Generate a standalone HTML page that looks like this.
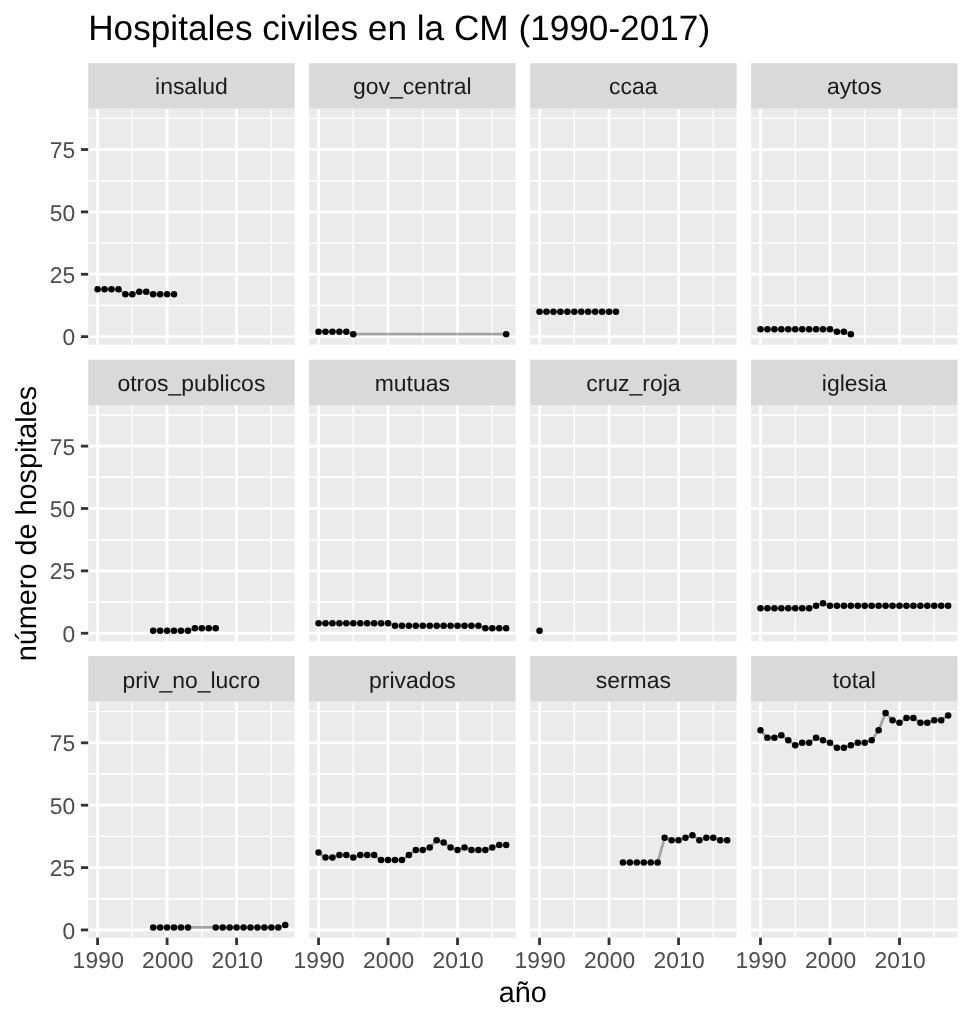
<!DOCTYPE html>
<html lang="es"><head><meta charset="utf-8"><title>Hospitales civiles en la CM (1990-2017)</title>
<style>html,body{margin:0;padding:0;background:#fff}body{width:972px;height:1024px;overflow:hidden}svg{display:block}text{font-family:"Liberation Sans",Arial,Helvetica,sans-serif;text-rendering:geometricPrecision}.ax{font-size:22.8px;letter-spacing:.2px;fill:#4d4d4d}.st{font-size:22.95px;fill:#1a1a1a;text-anchor:middle}.tt{font-size:28.8px;fill:#000}.ti{font-size:35.2px;fill:#000}.mn{stroke:#fff;stroke-width:1.4}.mj{stroke:#fff;stroke-width:2.8}.tk{stroke:#333;stroke-width:2.8}.ln{fill:none;stroke:#000;stroke-opacity:.31;stroke-width:2.7;stroke-linejoin:round;stroke-linecap:butt}.pt{fill:#000}</style></head><body>
<svg width="972" height="1024" viewBox="0 0 972 1024">
<rect width="972" height="1024" fill="#fff"/>
<text class="ti" x="88.2" y="40">Hospitales civiles en la CM (1990-2017)</text>
<g>
<rect x="88.2" y="108.65" width="206.4" height="236.15" fill="#ebebeb"/>
<line class="mn" x1="88.2" x2="294.6" y1="305.46" y2="305.46"/>
<line class="mn" x1="88.2" x2="294.6" y1="243.09" y2="243.09"/>
<line class="mn" x1="88.2" x2="294.6" y1="180.71" y2="180.71"/>
<line class="mn" x1="88.2" x2="294.6" y1="118.34" y2="118.34"/>
<line class="mn" x1="132.33" x2="132.33" y1="108.65" y2="344.8"/>
<line class="mn" x1="201.83" x2="201.83" y1="108.65" y2="344.8"/>
<line class="mn" x1="271.33" x2="271.33" y1="108.65" y2="344.8"/>
<line class="mj" x1="88.2" x2="294.6" y1="336.65" y2="336.65"/>
<line class="mj" x1="88.2" x2="294.6" y1="274.27" y2="274.27"/>
<line class="mj" x1="88.2" x2="294.6" y1="211.9" y2="211.9"/>
<line class="mj" x1="88.2" x2="294.6" y1="149.52" y2="149.52"/>
<line class="mj" x1="97.58" x2="97.58" y1="108.65" y2="344.8"/>
<line class="mj" x1="167.08" x2="167.08" y1="108.65" y2="344.8"/>
<line class="mj" x1="236.58" x2="236.58" y1="108.65" y2="344.8"/>
<polyline class="ln" points="97.58,289.25 104.53,289.25 111.48,289.25 118.43,289.25 125.38,294.23 132.33,294.23 139.28,291.74 146.23,291.74 153.18,294.23 160.13,294.23 167.08,294.23 174.03,294.23"/>
<circle class="pt" cx="97.58" cy="289.25" r="3.25"/>
<circle class="pt" cx="104.53" cy="289.25" r="3.25"/>
<circle class="pt" cx="111.48" cy="289.25" r="3.25"/>
<circle class="pt" cx="118.43" cy="289.25" r="3.25"/>
<circle class="pt" cx="125.38" cy="294.23" r="3.25"/>
<circle class="pt" cx="132.33" cy="294.23" r="3.25"/>
<circle class="pt" cx="139.28" cy="291.74" r="3.25"/>
<circle class="pt" cx="146.23" cy="291.74" r="3.25"/>
<circle class="pt" cx="153.18" cy="294.23" r="3.25"/>
<circle class="pt" cx="160.13" cy="294.23" r="3.25"/>
<circle class="pt" cx="167.08" cy="294.23" r="3.25"/>
<circle class="pt" cx="174.03" cy="294.23" r="3.25"/>
<rect x="88.2" y="63.2" width="206.4" height="45.45" fill="#d9d9d9"/>
<text class="st" x="191.4" y="93.9">insalud</text>
<line class="tk" x1="80.9" x2="88.2" y1="336.65" y2="336.65"/>
<text class="ax" text-anchor="end" x="75.5" y="345.25">0</text>
<line class="tk" x1="80.9" x2="88.2" y1="274.27" y2="274.27"/>
<text class="ax" text-anchor="end" x="75.5" y="282.88">25</text>
<line class="tk" x1="80.9" x2="88.2" y1="211.9" y2="211.9"/>
<text class="ax" text-anchor="end" x="75.5" y="220.5">50</text>
<line class="tk" x1="80.9" x2="88.2" y1="149.52" y2="149.52"/>
<text class="ax" text-anchor="end" x="75.5" y="158.12">75</text>
</g>
<g>
<rect x="309.15" y="108.65" width="206.4" height="236.15" fill="#ebebeb"/>
<line class="mn" x1="309.15" x2="515.55" y1="305.46" y2="305.46"/>
<line class="mn" x1="309.15" x2="515.55" y1="243.09" y2="243.09"/>
<line class="mn" x1="309.15" x2="515.55" y1="180.71" y2="180.71"/>
<line class="mn" x1="309.15" x2="515.55" y1="118.34" y2="118.34"/>
<line class="mn" x1="353.28" x2="353.28" y1="108.65" y2="344.8"/>
<line class="mn" x1="422.78" x2="422.78" y1="108.65" y2="344.8"/>
<line class="mn" x1="492.28" x2="492.28" y1="108.65" y2="344.8"/>
<line class="mj" x1="309.15" x2="515.55" y1="336.65" y2="336.65"/>
<line class="mj" x1="309.15" x2="515.55" y1="274.27" y2="274.27"/>
<line class="mj" x1="309.15" x2="515.55" y1="211.9" y2="211.9"/>
<line class="mj" x1="309.15" x2="515.55" y1="149.52" y2="149.52"/>
<line class="mj" x1="318.53" x2="318.53" y1="108.65" y2="344.8"/>
<line class="mj" x1="388.03" x2="388.03" y1="108.65" y2="344.8"/>
<line class="mj" x1="457.53" x2="457.53" y1="108.65" y2="344.8"/>
<polyline class="ln" points="318.53,331.66 325.48,331.66 332.43,331.66 339.38,331.66 346.33,331.66 353.28,334.15 506.18,334.15"/>
<circle class="pt" cx="318.53" cy="331.66" r="3.25"/>
<circle class="pt" cx="325.48" cy="331.66" r="3.25"/>
<circle class="pt" cx="332.43" cy="331.66" r="3.25"/>
<circle class="pt" cx="339.38" cy="331.66" r="3.25"/>
<circle class="pt" cx="346.33" cy="331.66" r="3.25"/>
<circle class="pt" cx="353.28" cy="334.15" r="3.25"/>
<circle class="pt" cx="506.18" cy="334.15" r="3.25"/>
<rect x="309.15" y="63.2" width="206.4" height="45.45" fill="#d9d9d9"/>
<text class="st" x="412.35" y="93.9">gov_central</text>
</g>
<g>
<rect x="530.15" y="108.65" width="206.4" height="236.15" fill="#ebebeb"/>
<line class="mn" x1="530.15" x2="736.55" y1="305.46" y2="305.46"/>
<line class="mn" x1="530.15" x2="736.55" y1="243.09" y2="243.09"/>
<line class="mn" x1="530.15" x2="736.55" y1="180.71" y2="180.71"/>
<line class="mn" x1="530.15" x2="736.55" y1="118.34" y2="118.34"/>
<line class="mn" x1="574.28" x2="574.28" y1="108.65" y2="344.8"/>
<line class="mn" x1="643.78" x2="643.78" y1="108.65" y2="344.8"/>
<line class="mn" x1="713.28" x2="713.28" y1="108.65" y2="344.8"/>
<line class="mj" x1="530.15" x2="736.55" y1="336.65" y2="336.65"/>
<line class="mj" x1="530.15" x2="736.55" y1="274.27" y2="274.27"/>
<line class="mj" x1="530.15" x2="736.55" y1="211.9" y2="211.9"/>
<line class="mj" x1="530.15" x2="736.55" y1="149.52" y2="149.52"/>
<line class="mj" x1="539.53" x2="539.53" y1="108.65" y2="344.8"/>
<line class="mj" x1="609.03" x2="609.03" y1="108.65" y2="344.8"/>
<line class="mj" x1="678.53" x2="678.53" y1="108.65" y2="344.8"/>
<polyline class="ln" points="539.53,311.7 546.48,311.7 553.43,311.7 560.38,311.7 567.33,311.7 574.28,311.7 581.23,311.7 588.18,311.7 595.13,311.7 602.08,311.7 609.03,311.7 615.98,311.7"/>
<circle class="pt" cx="539.53" cy="311.7" r="3.25"/>
<circle class="pt" cx="546.48" cy="311.7" r="3.25"/>
<circle class="pt" cx="553.43" cy="311.7" r="3.25"/>
<circle class="pt" cx="560.38" cy="311.7" r="3.25"/>
<circle class="pt" cx="567.33" cy="311.7" r="3.25"/>
<circle class="pt" cx="574.28" cy="311.7" r="3.25"/>
<circle class="pt" cx="581.23" cy="311.7" r="3.25"/>
<circle class="pt" cx="588.18" cy="311.7" r="3.25"/>
<circle class="pt" cx="595.13" cy="311.7" r="3.25"/>
<circle class="pt" cx="602.08" cy="311.7" r="3.25"/>
<circle class="pt" cx="609.03" cy="311.7" r="3.25"/>
<circle class="pt" cx="615.98" cy="311.7" r="3.25"/>
<rect x="530.15" y="63.2" width="206.4" height="45.45" fill="#d9d9d9"/>
<text class="st" x="633.35" y="93.9">ccaa</text>
</g>
<g>
<rect x="751.1" y="108.65" width="206.4" height="236.15" fill="#ebebeb"/>
<line class="mn" x1="751.1" x2="957.5" y1="305.46" y2="305.46"/>
<line class="mn" x1="751.1" x2="957.5" y1="243.09" y2="243.09"/>
<line class="mn" x1="751.1" x2="957.5" y1="180.71" y2="180.71"/>
<line class="mn" x1="751.1" x2="957.5" y1="118.34" y2="118.34"/>
<line class="mn" x1="795.23" x2="795.23" y1="108.65" y2="344.8"/>
<line class="mn" x1="864.73" x2="864.73" y1="108.65" y2="344.8"/>
<line class="mn" x1="934.23" x2="934.23" y1="108.65" y2="344.8"/>
<line class="mj" x1="751.1" x2="957.5" y1="336.65" y2="336.65"/>
<line class="mj" x1="751.1" x2="957.5" y1="274.27" y2="274.27"/>
<line class="mj" x1="751.1" x2="957.5" y1="211.9" y2="211.9"/>
<line class="mj" x1="751.1" x2="957.5" y1="149.52" y2="149.52"/>
<line class="mj" x1="760.48" x2="760.48" y1="108.65" y2="344.8"/>
<line class="mj" x1="829.98" x2="829.98" y1="108.65" y2="344.8"/>
<line class="mj" x1="899.48" x2="899.48" y1="108.65" y2="344.8"/>
<polyline class="ln" points="760.48,329.16 767.43,329.16 774.38,329.16 781.33,329.16 788.28,329.16 795.23,329.16 802.18,329.16 809.13,329.16 816.08,329.16 823.03,329.16 829.98,329.16 836.93,331.66 843.88,331.66 850.83,334.15"/>
<circle class="pt" cx="760.48" cy="329.16" r="3.25"/>
<circle class="pt" cx="767.43" cy="329.16" r="3.25"/>
<circle class="pt" cx="774.38" cy="329.16" r="3.25"/>
<circle class="pt" cx="781.33" cy="329.16" r="3.25"/>
<circle class="pt" cx="788.28" cy="329.16" r="3.25"/>
<circle class="pt" cx="795.23" cy="329.16" r="3.25"/>
<circle class="pt" cx="802.18" cy="329.16" r="3.25"/>
<circle class="pt" cx="809.13" cy="329.16" r="3.25"/>
<circle class="pt" cx="816.08" cy="329.16" r="3.25"/>
<circle class="pt" cx="823.03" cy="329.16" r="3.25"/>
<circle class="pt" cx="829.98" cy="329.16" r="3.25"/>
<circle class="pt" cx="836.93" cy="331.66" r="3.25"/>
<circle class="pt" cx="843.88" cy="331.66" r="3.25"/>
<circle class="pt" cx="850.83" cy="334.15" r="3.25"/>
<rect x="751.1" y="63.2" width="206.4" height="45.45" fill="#d9d9d9"/>
<text class="st" x="854.3" y="93.9">aytos</text>
</g>
<g>
<rect x="88.2" y="405.15" width="206.4" height="236.15" fill="#ebebeb"/>
<line class="mn" x1="88.2" x2="294.6" y1="602.06" y2="602.06"/>
<line class="mn" x1="88.2" x2="294.6" y1="539.69" y2="539.69"/>
<line class="mn" x1="88.2" x2="294.6" y1="477.31" y2="477.31"/>
<line class="mn" x1="88.2" x2="294.6" y1="414.94" y2="414.94"/>
<line class="mn" x1="132.33" x2="132.33" y1="405.15" y2="641.3"/>
<line class="mn" x1="201.83" x2="201.83" y1="405.15" y2="641.3"/>
<line class="mn" x1="271.33" x2="271.33" y1="405.15" y2="641.3"/>
<line class="mj" x1="88.2" x2="294.6" y1="633.25" y2="633.25"/>
<line class="mj" x1="88.2" x2="294.6" y1="570.88" y2="570.88"/>
<line class="mj" x1="88.2" x2="294.6" y1="508.5" y2="508.5"/>
<line class="mj" x1="88.2" x2="294.6" y1="446.12" y2="446.12"/>
<line class="mj" x1="97.58" x2="97.58" y1="405.15" y2="641.3"/>
<line class="mj" x1="167.08" x2="167.08" y1="405.15" y2="641.3"/>
<line class="mj" x1="236.58" x2="236.58" y1="405.15" y2="641.3"/>
<polyline class="ln" points="153.18,630.75 160.13,630.75 167.08,630.75 174.03,630.75 180.98,630.75 187.93,630.75 194.88,628.26 201.83,628.26 208.78,628.26 215.73,628.26"/>
<circle class="pt" cx="153.18" cy="630.75" r="3.25"/>
<circle class="pt" cx="160.13" cy="630.75" r="3.25"/>
<circle class="pt" cx="167.08" cy="630.75" r="3.25"/>
<circle class="pt" cx="174.03" cy="630.75" r="3.25"/>
<circle class="pt" cx="180.98" cy="630.75" r="3.25"/>
<circle class="pt" cx="187.93" cy="630.75" r="3.25"/>
<circle class="pt" cx="194.88" cy="628.26" r="3.25"/>
<circle class="pt" cx="201.83" cy="628.26" r="3.25"/>
<circle class="pt" cx="208.78" cy="628.26" r="3.25"/>
<circle class="pt" cx="215.73" cy="628.26" r="3.25"/>
<rect x="88.2" y="359.7" width="206.4" height="45.45" fill="#d9d9d9"/>
<text class="st" x="191.4" y="390.9">otros_publicos</text>
<line class="tk" x1="80.9" x2="88.2" y1="633.25" y2="633.25"/>
<text class="ax" text-anchor="end" x="75.5" y="641.85">0</text>
<line class="tk" x1="80.9" x2="88.2" y1="570.88" y2="570.88"/>
<text class="ax" text-anchor="end" x="75.5" y="579.48">25</text>
<line class="tk" x1="80.9" x2="88.2" y1="508.5" y2="508.5"/>
<text class="ax" text-anchor="end" x="75.5" y="517.1">50</text>
<line class="tk" x1="80.9" x2="88.2" y1="446.12" y2="446.12"/>
<text class="ax" text-anchor="end" x="75.5" y="454.73">75</text>
</g>
<g>
<rect x="309.15" y="405.15" width="206.4" height="236.15" fill="#ebebeb"/>
<line class="mn" x1="309.15" x2="515.55" y1="602.06" y2="602.06"/>
<line class="mn" x1="309.15" x2="515.55" y1="539.69" y2="539.69"/>
<line class="mn" x1="309.15" x2="515.55" y1="477.31" y2="477.31"/>
<line class="mn" x1="309.15" x2="515.55" y1="414.94" y2="414.94"/>
<line class="mn" x1="353.28" x2="353.28" y1="405.15" y2="641.3"/>
<line class="mn" x1="422.78" x2="422.78" y1="405.15" y2="641.3"/>
<line class="mn" x1="492.28" x2="492.28" y1="405.15" y2="641.3"/>
<line class="mj" x1="309.15" x2="515.55" y1="633.25" y2="633.25"/>
<line class="mj" x1="309.15" x2="515.55" y1="570.88" y2="570.88"/>
<line class="mj" x1="309.15" x2="515.55" y1="508.5" y2="508.5"/>
<line class="mj" x1="309.15" x2="515.55" y1="446.12" y2="446.12"/>
<line class="mj" x1="318.53" x2="318.53" y1="405.15" y2="641.3"/>
<line class="mj" x1="388.03" x2="388.03" y1="405.15" y2="641.3"/>
<line class="mj" x1="457.53" x2="457.53" y1="405.15" y2="641.3"/>
<polyline class="ln" points="318.53,623.27 325.48,623.27 332.43,623.27 339.38,623.27 346.33,623.27 353.28,623.27 360.23,623.27 367.18,623.27 374.13,623.27 381.08,623.27 388.03,623.27 394.98,625.76 401.93,625.76 408.88,625.76 415.83,625.76 422.78,625.76 429.73,625.76 436.68,625.76 443.63,625.76 450.58,625.76 457.53,625.76 464.48,625.76 471.43,625.76 478.38,625.76 485.33,628.26 492.28,628.26 499.23,628.26 506.18,628.26"/>
<circle class="pt" cx="318.53" cy="623.27" r="3.25"/>
<circle class="pt" cx="325.48" cy="623.27" r="3.25"/>
<circle class="pt" cx="332.43" cy="623.27" r="3.25"/>
<circle class="pt" cx="339.38" cy="623.27" r="3.25"/>
<circle class="pt" cx="346.33" cy="623.27" r="3.25"/>
<circle class="pt" cx="353.28" cy="623.27" r="3.25"/>
<circle class="pt" cx="360.23" cy="623.27" r="3.25"/>
<circle class="pt" cx="367.18" cy="623.27" r="3.25"/>
<circle class="pt" cx="374.13" cy="623.27" r="3.25"/>
<circle class="pt" cx="381.08" cy="623.27" r="3.25"/>
<circle class="pt" cx="388.03" cy="623.27" r="3.25"/>
<circle class="pt" cx="394.98" cy="625.76" r="3.25"/>
<circle class="pt" cx="401.93" cy="625.76" r="3.25"/>
<circle class="pt" cx="408.88" cy="625.76" r="3.25"/>
<circle class="pt" cx="415.83" cy="625.76" r="3.25"/>
<circle class="pt" cx="422.78" cy="625.76" r="3.25"/>
<circle class="pt" cx="429.73" cy="625.76" r="3.25"/>
<circle class="pt" cx="436.68" cy="625.76" r="3.25"/>
<circle class="pt" cx="443.63" cy="625.76" r="3.25"/>
<circle class="pt" cx="450.58" cy="625.76" r="3.25"/>
<circle class="pt" cx="457.53" cy="625.76" r="3.25"/>
<circle class="pt" cx="464.48" cy="625.76" r="3.25"/>
<circle class="pt" cx="471.43" cy="625.76" r="3.25"/>
<circle class="pt" cx="478.38" cy="625.76" r="3.25"/>
<circle class="pt" cx="485.33" cy="628.26" r="3.25"/>
<circle class="pt" cx="492.28" cy="628.26" r="3.25"/>
<circle class="pt" cx="499.23" cy="628.26" r="3.25"/>
<circle class="pt" cx="506.18" cy="628.26" r="3.25"/>
<rect x="309.15" y="359.7" width="206.4" height="45.45" fill="#d9d9d9"/>
<text class="st" x="412.35" y="390.9">mutuas</text>
</g>
<g>
<rect x="530.15" y="405.15" width="206.4" height="236.15" fill="#ebebeb"/>
<line class="mn" x1="530.15" x2="736.55" y1="602.06" y2="602.06"/>
<line class="mn" x1="530.15" x2="736.55" y1="539.69" y2="539.69"/>
<line class="mn" x1="530.15" x2="736.55" y1="477.31" y2="477.31"/>
<line class="mn" x1="530.15" x2="736.55" y1="414.94" y2="414.94"/>
<line class="mn" x1="574.28" x2="574.28" y1="405.15" y2="641.3"/>
<line class="mn" x1="643.78" x2="643.78" y1="405.15" y2="641.3"/>
<line class="mn" x1="713.28" x2="713.28" y1="405.15" y2="641.3"/>
<line class="mj" x1="530.15" x2="736.55" y1="633.25" y2="633.25"/>
<line class="mj" x1="530.15" x2="736.55" y1="570.88" y2="570.88"/>
<line class="mj" x1="530.15" x2="736.55" y1="508.5" y2="508.5"/>
<line class="mj" x1="530.15" x2="736.55" y1="446.12" y2="446.12"/>
<line class="mj" x1="539.53" x2="539.53" y1="405.15" y2="641.3"/>
<line class="mj" x1="609.03" x2="609.03" y1="405.15" y2="641.3"/>
<line class="mj" x1="678.53" x2="678.53" y1="405.15" y2="641.3"/>
<circle class="pt" cx="539.53" cy="630.75" r="3.25"/>
<rect x="530.15" y="359.7" width="206.4" height="45.45" fill="#d9d9d9"/>
<text class="st" x="633.35" y="390.9">cruz_roja</text>
</g>
<g>
<rect x="751.1" y="405.15" width="206.4" height="236.15" fill="#ebebeb"/>
<line class="mn" x1="751.1" x2="957.5" y1="602.06" y2="602.06"/>
<line class="mn" x1="751.1" x2="957.5" y1="539.69" y2="539.69"/>
<line class="mn" x1="751.1" x2="957.5" y1="477.31" y2="477.31"/>
<line class="mn" x1="751.1" x2="957.5" y1="414.94" y2="414.94"/>
<line class="mn" x1="795.23" x2="795.23" y1="405.15" y2="641.3"/>
<line class="mn" x1="864.73" x2="864.73" y1="405.15" y2="641.3"/>
<line class="mn" x1="934.23" x2="934.23" y1="405.15" y2="641.3"/>
<line class="mj" x1="751.1" x2="957.5" y1="633.25" y2="633.25"/>
<line class="mj" x1="751.1" x2="957.5" y1="570.88" y2="570.88"/>
<line class="mj" x1="751.1" x2="957.5" y1="508.5" y2="508.5"/>
<line class="mj" x1="751.1" x2="957.5" y1="446.12" y2="446.12"/>
<line class="mj" x1="760.48" x2="760.48" y1="405.15" y2="641.3"/>
<line class="mj" x1="829.98" x2="829.98" y1="405.15" y2="641.3"/>
<line class="mj" x1="899.48" x2="899.48" y1="405.15" y2="641.3"/>
<polyline class="ln" points="760.48,608.3 767.43,608.3 774.38,608.3 781.33,608.3 788.28,608.3 795.23,608.3 802.18,608.3 809.13,608.3 816.08,605.8 823.03,603.31 829.98,605.8 836.93,605.8 843.88,605.8 850.83,605.8 857.78,605.8 864.73,605.8 871.68,605.8 878.63,605.8 885.58,605.8 892.53,605.8 899.48,605.8 906.43,605.8 913.38,605.8 920.33,605.8 927.28,605.8 934.23,605.8 941.18,605.8 948.13,605.8"/>
<circle class="pt" cx="760.48" cy="608.3" r="3.25"/>
<circle class="pt" cx="767.43" cy="608.3" r="3.25"/>
<circle class="pt" cx="774.38" cy="608.3" r="3.25"/>
<circle class="pt" cx="781.33" cy="608.3" r="3.25"/>
<circle class="pt" cx="788.28" cy="608.3" r="3.25"/>
<circle class="pt" cx="795.23" cy="608.3" r="3.25"/>
<circle class="pt" cx="802.18" cy="608.3" r="3.25"/>
<circle class="pt" cx="809.13" cy="608.3" r="3.25"/>
<circle class="pt" cx="816.08" cy="605.8" r="3.25"/>
<circle class="pt" cx="823.03" cy="603.31" r="3.25"/>
<circle class="pt" cx="829.98" cy="605.8" r="3.25"/>
<circle class="pt" cx="836.93" cy="605.8" r="3.25"/>
<circle class="pt" cx="843.88" cy="605.8" r="3.25"/>
<circle class="pt" cx="850.83" cy="605.8" r="3.25"/>
<circle class="pt" cx="857.78" cy="605.8" r="3.25"/>
<circle class="pt" cx="864.73" cy="605.8" r="3.25"/>
<circle class="pt" cx="871.68" cy="605.8" r="3.25"/>
<circle class="pt" cx="878.63" cy="605.8" r="3.25"/>
<circle class="pt" cx="885.58" cy="605.8" r="3.25"/>
<circle class="pt" cx="892.53" cy="605.8" r="3.25"/>
<circle class="pt" cx="899.48" cy="605.8" r="3.25"/>
<circle class="pt" cx="906.43" cy="605.8" r="3.25"/>
<circle class="pt" cx="913.38" cy="605.8" r="3.25"/>
<circle class="pt" cx="920.33" cy="605.8" r="3.25"/>
<circle class="pt" cx="927.28" cy="605.8" r="3.25"/>
<circle class="pt" cx="934.23" cy="605.8" r="3.25"/>
<circle class="pt" cx="941.18" cy="605.8" r="3.25"/>
<circle class="pt" cx="948.13" cy="605.8" r="3.25"/>
<rect x="751.1" y="359.7" width="206.4" height="45.45" fill="#d9d9d9"/>
<text class="st" x="854.3" y="390.9">iglesia</text>
</g>
<g>
<rect x="88.2" y="701.55" width="206.4" height="236.15" fill="#ebebeb"/>
<line class="mn" x1="88.2" x2="294.6" y1="898.76" y2="898.76"/>
<line class="mn" x1="88.2" x2="294.6" y1="836.39" y2="836.39"/>
<line class="mn" x1="88.2" x2="294.6" y1="774.01" y2="774.01"/>
<line class="mn" x1="88.2" x2="294.6" y1="711.64" y2="711.64"/>
<line class="mn" x1="132.33" x2="132.33" y1="701.55" y2="937.7"/>
<line class="mn" x1="201.83" x2="201.83" y1="701.55" y2="937.7"/>
<line class="mn" x1="271.33" x2="271.33" y1="701.55" y2="937.7"/>
<line class="mj" x1="88.2" x2="294.6" y1="929.95" y2="929.95"/>
<line class="mj" x1="88.2" x2="294.6" y1="867.58" y2="867.58"/>
<line class="mj" x1="88.2" x2="294.6" y1="805.2" y2="805.2"/>
<line class="mj" x1="88.2" x2="294.6" y1="742.83" y2="742.83"/>
<line class="mj" x1="97.58" x2="97.58" y1="701.55" y2="937.7"/>
<line class="mj" x1="167.08" x2="167.08" y1="701.55" y2="937.7"/>
<line class="mj" x1="236.58" x2="236.58" y1="701.55" y2="937.7"/>
<polyline class="ln" points="153.18,927.46 160.13,927.46 167.08,927.46 174.03,927.46 180.98,927.46 187.93,927.46 215.73,927.46 222.68,927.46 229.63,927.46 236.58,927.46 243.53,927.46 250.48,927.46 257.43,927.46 264.38,927.46 271.33,927.46 278.28,927.46 285.23,924.96"/>
<circle class="pt" cx="153.18" cy="927.46" r="3.25"/>
<circle class="pt" cx="160.13" cy="927.46" r="3.25"/>
<circle class="pt" cx="167.08" cy="927.46" r="3.25"/>
<circle class="pt" cx="174.03" cy="927.46" r="3.25"/>
<circle class="pt" cx="180.98" cy="927.46" r="3.25"/>
<circle class="pt" cx="187.93" cy="927.46" r="3.25"/>
<circle class="pt" cx="215.73" cy="927.46" r="3.25"/>
<circle class="pt" cx="222.68" cy="927.46" r="3.25"/>
<circle class="pt" cx="229.63" cy="927.46" r="3.25"/>
<circle class="pt" cx="236.58" cy="927.46" r="3.25"/>
<circle class="pt" cx="243.53" cy="927.46" r="3.25"/>
<circle class="pt" cx="250.48" cy="927.46" r="3.25"/>
<circle class="pt" cx="257.43" cy="927.46" r="3.25"/>
<circle class="pt" cx="264.38" cy="927.46" r="3.25"/>
<circle class="pt" cx="271.33" cy="927.46" r="3.25"/>
<circle class="pt" cx="278.28" cy="927.46" r="3.25"/>
<circle class="pt" cx="285.23" cy="924.96" r="3.25"/>
<rect x="88.2" y="656.1" width="206.4" height="45.45" fill="#d9d9d9"/>
<text class="st" x="191.4" y="687.7">priv_no_lucro</text>
<line class="tk" x1="80.9" x2="88.2" y1="929.95" y2="929.95"/>
<text class="ax" text-anchor="end" x="75.5" y="938.55">0</text>
<line class="tk" x1="80.9" x2="88.2" y1="867.58" y2="867.58"/>
<text class="ax" text-anchor="end" x="75.5" y="876.18">25</text>
<line class="tk" x1="80.9" x2="88.2" y1="805.2" y2="805.2"/>
<text class="ax" text-anchor="end" x="75.5" y="813.8">50</text>
<line class="tk" x1="80.9" x2="88.2" y1="742.83" y2="742.83"/>
<text class="ax" text-anchor="end" x="75.5" y="751.43">75</text>
<line class="tk" x1="97.58" x2="97.58" y1="937.7" y2="945"/>
<text class="ax" text-anchor="middle" x="98.28" y="968.3">1990</text>
<line class="tk" x1="167.08" x2="167.08" y1="937.7" y2="945"/>
<text class="ax" text-anchor="middle" x="167.78" y="968.3">2000</text>
<line class="tk" x1="236.58" x2="236.58" y1="937.7" y2="945"/>
<text class="ax" text-anchor="middle" x="237.28" y="968.3">2010</text>
</g>
<g>
<rect x="309.15" y="701.55" width="206.4" height="236.15" fill="#ebebeb"/>
<line class="mn" x1="309.15" x2="515.55" y1="898.76" y2="898.76"/>
<line class="mn" x1="309.15" x2="515.55" y1="836.39" y2="836.39"/>
<line class="mn" x1="309.15" x2="515.55" y1="774.01" y2="774.01"/>
<line class="mn" x1="309.15" x2="515.55" y1="711.64" y2="711.64"/>
<line class="mn" x1="353.28" x2="353.28" y1="701.55" y2="937.7"/>
<line class="mn" x1="422.78" x2="422.78" y1="701.55" y2="937.7"/>
<line class="mn" x1="492.28" x2="492.28" y1="701.55" y2="937.7"/>
<line class="mj" x1="309.15" x2="515.55" y1="929.95" y2="929.95"/>
<line class="mj" x1="309.15" x2="515.55" y1="867.58" y2="867.58"/>
<line class="mj" x1="309.15" x2="515.55" y1="805.2" y2="805.2"/>
<line class="mj" x1="309.15" x2="515.55" y1="742.83" y2="742.83"/>
<line class="mj" x1="318.53" x2="318.53" y1="701.55" y2="937.7"/>
<line class="mj" x1="388.03" x2="388.03" y1="701.55" y2="937.7"/>
<line class="mj" x1="457.53" x2="457.53" y1="701.55" y2="937.7"/>
<polyline class="ln" points="318.53,852.61 325.48,857.6 332.43,857.6 339.38,855.1 346.33,855.1 353.28,857.6 360.23,855.1 367.18,855.1 374.13,855.1 381.08,860.09 388.03,860.09 394.98,860.09 401.93,860.09 408.88,855.1 415.83,850.11 422.78,850.11 429.73,847.62 436.68,840.13 443.63,842.62 450.58,847.62 457.53,850.11 464.48,847.62 471.43,850.11 478.38,850.11 485.33,850.11 492.28,847.62 499.23,845.12 506.18,845.12"/>
<circle class="pt" cx="318.53" cy="852.61" r="3.25"/>
<circle class="pt" cx="325.48" cy="857.6" r="3.25"/>
<circle class="pt" cx="332.43" cy="857.6" r="3.25"/>
<circle class="pt" cx="339.38" cy="855.1" r="3.25"/>
<circle class="pt" cx="346.33" cy="855.1" r="3.25"/>
<circle class="pt" cx="353.28" cy="857.6" r="3.25"/>
<circle class="pt" cx="360.23" cy="855.1" r="3.25"/>
<circle class="pt" cx="367.18" cy="855.1" r="3.25"/>
<circle class="pt" cx="374.13" cy="855.1" r="3.25"/>
<circle class="pt" cx="381.08" cy="860.09" r="3.25"/>
<circle class="pt" cx="388.03" cy="860.09" r="3.25"/>
<circle class="pt" cx="394.98" cy="860.09" r="3.25"/>
<circle class="pt" cx="401.93" cy="860.09" r="3.25"/>
<circle class="pt" cx="408.88" cy="855.1" r="3.25"/>
<circle class="pt" cx="415.83" cy="850.11" r="3.25"/>
<circle class="pt" cx="422.78" cy="850.11" r="3.25"/>
<circle class="pt" cx="429.73" cy="847.62" r="3.25"/>
<circle class="pt" cx="436.68" cy="840.13" r="3.25"/>
<circle class="pt" cx="443.63" cy="842.62" r="3.25"/>
<circle class="pt" cx="450.58" cy="847.62" r="3.25"/>
<circle class="pt" cx="457.53" cy="850.11" r="3.25"/>
<circle class="pt" cx="464.48" cy="847.62" r="3.25"/>
<circle class="pt" cx="471.43" cy="850.11" r="3.25"/>
<circle class="pt" cx="478.38" cy="850.11" r="3.25"/>
<circle class="pt" cx="485.33" cy="850.11" r="3.25"/>
<circle class="pt" cx="492.28" cy="847.62" r="3.25"/>
<circle class="pt" cx="499.23" cy="845.12" r="3.25"/>
<circle class="pt" cx="506.18" cy="845.12" r="3.25"/>
<rect x="309.15" y="656.1" width="206.4" height="45.45" fill="#d9d9d9"/>
<text class="st" x="412.35" y="687.7">privados</text>
<line class="tk" x1="318.53" x2="318.53" y1="937.7" y2="945"/>
<text class="ax" text-anchor="middle" x="319.23" y="968.3">1990</text>
<line class="tk" x1="388.03" x2="388.03" y1="937.7" y2="945"/>
<text class="ax" text-anchor="middle" x="388.73" y="968.3">2000</text>
<line class="tk" x1="457.53" x2="457.53" y1="937.7" y2="945"/>
<text class="ax" text-anchor="middle" x="458.23" y="968.3">2010</text>
</g>
<g>
<rect x="530.15" y="701.55" width="206.4" height="236.15" fill="#ebebeb"/>
<line class="mn" x1="530.15" x2="736.55" y1="898.76" y2="898.76"/>
<line class="mn" x1="530.15" x2="736.55" y1="836.39" y2="836.39"/>
<line class="mn" x1="530.15" x2="736.55" y1="774.01" y2="774.01"/>
<line class="mn" x1="530.15" x2="736.55" y1="711.64" y2="711.64"/>
<line class="mn" x1="574.28" x2="574.28" y1="701.55" y2="937.7"/>
<line class="mn" x1="643.78" x2="643.78" y1="701.55" y2="937.7"/>
<line class="mn" x1="713.28" x2="713.28" y1="701.55" y2="937.7"/>
<line class="mj" x1="530.15" x2="736.55" y1="929.95" y2="929.95"/>
<line class="mj" x1="530.15" x2="736.55" y1="867.58" y2="867.58"/>
<line class="mj" x1="530.15" x2="736.55" y1="805.2" y2="805.2"/>
<line class="mj" x1="530.15" x2="736.55" y1="742.83" y2="742.83"/>
<line class="mj" x1="539.53" x2="539.53" y1="701.55" y2="937.7"/>
<line class="mj" x1="609.03" x2="609.03" y1="701.55" y2="937.7"/>
<line class="mj" x1="678.53" x2="678.53" y1="701.55" y2="937.7"/>
<polyline class="ln" points="622.93,862.59 629.88,862.59 636.83,862.59 643.78,862.59 650.73,862.59 657.68,862.59 664.63,837.63 671.58,840.13 678.53,840.13 685.48,837.63 692.43,835.14 699.38,840.13 706.33,837.63 713.28,837.63 720.23,840.13 727.18,840.13"/>
<circle class="pt" cx="622.93" cy="862.59" r="3.25"/>
<circle class="pt" cx="629.88" cy="862.59" r="3.25"/>
<circle class="pt" cx="636.83" cy="862.59" r="3.25"/>
<circle class="pt" cx="643.78" cy="862.59" r="3.25"/>
<circle class="pt" cx="650.73" cy="862.59" r="3.25"/>
<circle class="pt" cx="657.68" cy="862.59" r="3.25"/>
<circle class="pt" cx="664.63" cy="837.63" r="3.25"/>
<circle class="pt" cx="671.58" cy="840.13" r="3.25"/>
<circle class="pt" cx="678.53" cy="840.13" r="3.25"/>
<circle class="pt" cx="685.48" cy="837.63" r="3.25"/>
<circle class="pt" cx="692.43" cy="835.14" r="3.25"/>
<circle class="pt" cx="699.38" cy="840.13" r="3.25"/>
<circle class="pt" cx="706.33" cy="837.63" r="3.25"/>
<circle class="pt" cx="713.28" cy="837.63" r="3.25"/>
<circle class="pt" cx="720.23" cy="840.13" r="3.25"/>
<circle class="pt" cx="727.18" cy="840.13" r="3.25"/>
<rect x="530.15" y="656.1" width="206.4" height="45.45" fill="#d9d9d9"/>
<text class="st" x="633.35" y="687.7">sermas</text>
<line class="tk" x1="539.53" x2="539.53" y1="937.7" y2="945"/>
<text class="ax" text-anchor="middle" x="540.23" y="968.3">1990</text>
<line class="tk" x1="609.03" x2="609.03" y1="937.7" y2="945"/>
<text class="ax" text-anchor="middle" x="609.73" y="968.3">2000</text>
<line class="tk" x1="678.53" x2="678.53" y1="937.7" y2="945"/>
<text class="ax" text-anchor="middle" x="679.23" y="968.3">2010</text>
</g>
<g>
<rect x="751.1" y="701.55" width="206.4" height="236.15" fill="#ebebeb"/>
<line class="mn" x1="751.1" x2="957.5" y1="898.76" y2="898.76"/>
<line class="mn" x1="751.1" x2="957.5" y1="836.39" y2="836.39"/>
<line class="mn" x1="751.1" x2="957.5" y1="774.01" y2="774.01"/>
<line class="mn" x1="751.1" x2="957.5" y1="711.64" y2="711.64"/>
<line class="mn" x1="795.23" x2="795.23" y1="701.55" y2="937.7"/>
<line class="mn" x1="864.73" x2="864.73" y1="701.55" y2="937.7"/>
<line class="mn" x1="934.23" x2="934.23" y1="701.55" y2="937.7"/>
<line class="mj" x1="751.1" x2="957.5" y1="929.95" y2="929.95"/>
<line class="mj" x1="751.1" x2="957.5" y1="867.58" y2="867.58"/>
<line class="mj" x1="751.1" x2="957.5" y1="805.2" y2="805.2"/>
<line class="mj" x1="751.1" x2="957.5" y1="742.83" y2="742.83"/>
<line class="mj" x1="760.48" x2="760.48" y1="701.55" y2="937.7"/>
<line class="mj" x1="829.98" x2="829.98" y1="701.55" y2="937.7"/>
<line class="mj" x1="899.48" x2="899.48" y1="701.55" y2="937.7"/>
<polyline class="ln" points="760.48,730.35 767.43,737.84 774.38,737.84 781.33,735.34 788.28,740.33 795.23,745.32 802.18,742.83 809.13,742.83 816.08,737.84 823.03,740.33 829.98,742.83 836.93,747.82 843.88,747.82 850.83,745.32 857.78,742.83 864.73,742.83 871.68,740.33 878.63,730.35 885.58,712.88 892.53,720.37 899.48,722.87 906.43,717.88 913.38,717.88 920.33,722.87 927.28,722.87 934.23,720.37 941.18,720.37 948.13,715.38"/>
<circle class="pt" cx="760.48" cy="730.35" r="3.25"/>
<circle class="pt" cx="767.43" cy="737.84" r="3.25"/>
<circle class="pt" cx="774.38" cy="737.84" r="3.25"/>
<circle class="pt" cx="781.33" cy="735.34" r="3.25"/>
<circle class="pt" cx="788.28" cy="740.33" r="3.25"/>
<circle class="pt" cx="795.23" cy="745.32" r="3.25"/>
<circle class="pt" cx="802.18" cy="742.83" r="3.25"/>
<circle class="pt" cx="809.13" cy="742.83" r="3.25"/>
<circle class="pt" cx="816.08" cy="737.84" r="3.25"/>
<circle class="pt" cx="823.03" cy="740.33" r="3.25"/>
<circle class="pt" cx="829.98" cy="742.83" r="3.25"/>
<circle class="pt" cx="836.93" cy="747.82" r="3.25"/>
<circle class="pt" cx="843.88" cy="747.82" r="3.25"/>
<circle class="pt" cx="850.83" cy="745.32" r="3.25"/>
<circle class="pt" cx="857.78" cy="742.83" r="3.25"/>
<circle class="pt" cx="864.73" cy="742.83" r="3.25"/>
<circle class="pt" cx="871.68" cy="740.33" r="3.25"/>
<circle class="pt" cx="878.63" cy="730.35" r="3.25"/>
<circle class="pt" cx="885.58" cy="712.88" r="3.25"/>
<circle class="pt" cx="892.53" cy="720.37" r="3.25"/>
<circle class="pt" cx="899.48" cy="722.87" r="3.25"/>
<circle class="pt" cx="906.43" cy="717.88" r="3.25"/>
<circle class="pt" cx="913.38" cy="717.88" r="3.25"/>
<circle class="pt" cx="920.33" cy="722.87" r="3.25"/>
<circle class="pt" cx="927.28" cy="722.87" r="3.25"/>
<circle class="pt" cx="934.23" cy="720.37" r="3.25"/>
<circle class="pt" cx="941.18" cy="720.37" r="3.25"/>
<circle class="pt" cx="948.13" cy="715.38" r="3.25"/>
<rect x="751.1" y="656.1" width="206.4" height="45.45" fill="#d9d9d9"/>
<text class="st" x="854.3" y="687.7">total</text>
<line class="tk" x1="760.48" x2="760.48" y1="937.7" y2="945"/>
<text class="ax" text-anchor="middle" x="761.18" y="968.3">1990</text>
<line class="tk" x1="829.98" x2="829.98" y1="937.7" y2="945"/>
<text class="ax" text-anchor="middle" x="830.68" y="968.3">2000</text>
<line class="tk" x1="899.48" x2="899.48" y1="937.7" y2="945"/>
<text class="ax" text-anchor="middle" x="900.18" y="968.3">2010</text>
</g>
<text class="tt" text-anchor="middle" x="522.7" y="1002.3">año</text>
<text class="tt" text-anchor="middle" transform="translate(35.65,523.5) rotate(-90)">número de hospitales</text>
</svg></body></html>
